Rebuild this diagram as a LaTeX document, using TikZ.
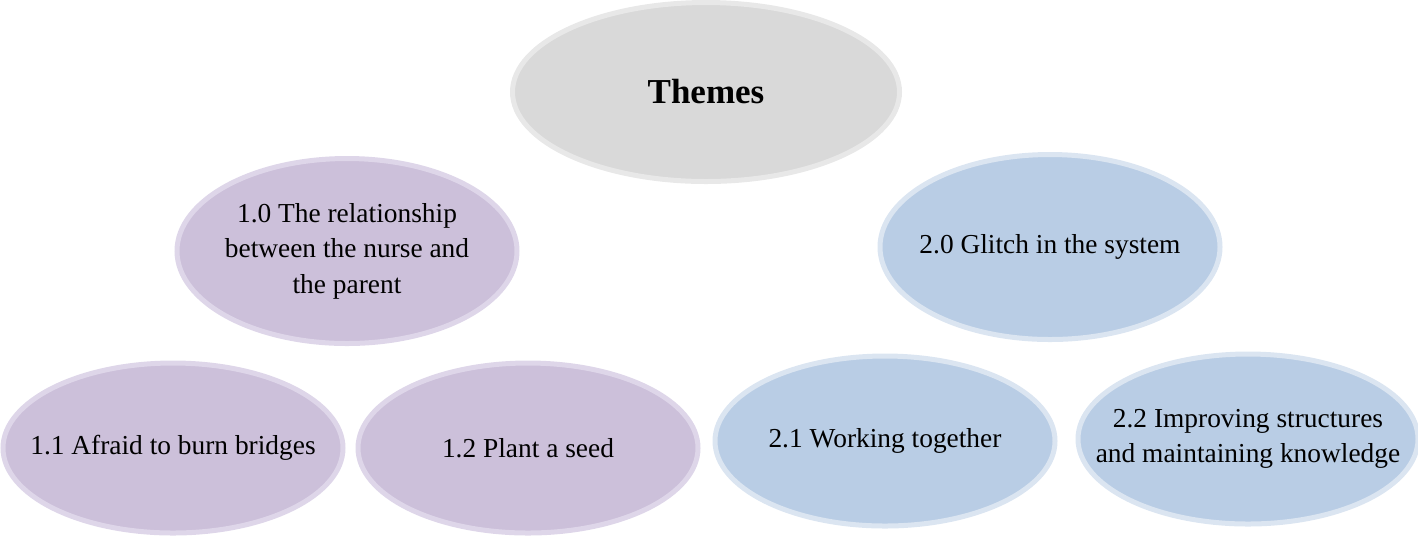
\documentclass[tikz,border=0pt]{standalone}
\usepackage{fontspec}
\setmainfont{Liberation Serif}
\usepackage{tikz}
\usetikzlibrary{shapes.geometric, positioning}

\definecolor{lilacfill}{HTML}{CCC0DA}
\definecolor{lilacrim}{HTML}{DED6E9}
\definecolor{bluefill}{HTML}{B9CDE5}
\definecolor{bluerim}{HTML}{DBE5F1}
\definecolor{greyfill}{HTML}{D9D9D9}
\definecolor{greyrim}{HTML}{E8E8E8}

\begin{document}
\begin{tikzpicture}[node distance=5pt, x=1pt, y=1pt]
            \tikzstyle{theme} = [ellipse, line width=2.5pt, inner sep=-25pt, align=center,
                                 font=\fontsize{13.7}{17.75}\selectfont]
            \tikzstyle{lilac} = [theme, draw=lilacrim, fill=lilacfill]
            \tikzstyle{bluish} = [theme, draw=bluerim, fill=bluefill]
            \tikzstyle{sub} = [minimum width=170pt, minimum height=85pt]
            \tikzstyle{main} = [minimum width=170pt, minimum height=92.5pt]

            \useasboundingbox (0,0) rectangle (709,-269);

            % Top
            \node[theme, draw=greyrim, fill=greyfill, minimum width=193.5pt, minimum height=89.5pt,
                  font=\fontsize{17.5}{21}\selectfont\bfseries] (top) at (353,-46) {Themes};

            % First theme
            \node[lilac, main] (t1) at (173.5,-125.5) {1.0 The relationship\\between the nurse and\\the parent};
            \node[lilac, sub] (t11) at (86.5,-224) {1.1 Afraid to burn bridges};
            \node[lilac, sub, right=of t11] (t12) {1.2 Plant a seed};

            % Second theme
            \node[bluish, main] (t2) at (525,-123.5) {2.0 Glitch in the system};
            \node[bluish, sub, right=6pt of t12, yshift=3.5pt] (t21) {2.1 Working together};
            \node[bluish, sub, right=9pt of t21, yshift=1pt] (t22) {2.2 Improving structures\\and maintaining knowledge};
        \end{tikzpicture}
\end{document}
